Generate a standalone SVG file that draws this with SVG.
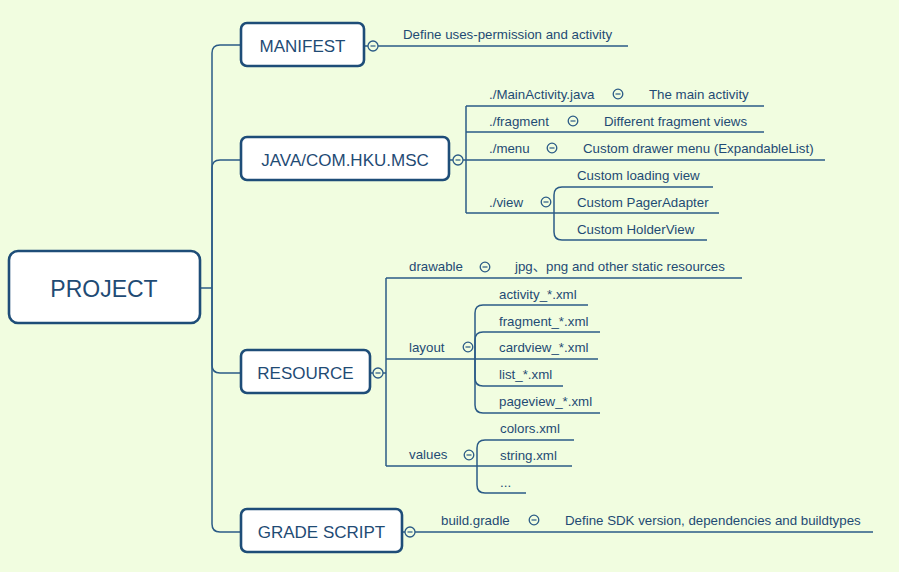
<svg xmlns="http://www.w3.org/2000/svg" width="899" height="572" viewBox="0 0 899 572">
<style>
.node rect{fill:#ffffff;stroke:#1e4d78;stroke-width:2.6}
.nt{font-family:"Liberation Sans","Noto Sans CJK SC",sans-serif;fill:#1f4b74;text-anchor:middle}
.t{font-family:"Liberation Sans","Noto Sans CJK SC",sans-serif;font-size:13.3px;fill:#1f4b74}
.ln{fill:none;stroke:#2b5b86;stroke-width:1.5}
.cc circle{fill:#f1fde0;stroke:#2b5b86;stroke-width:1.3}
.cc line{stroke:#2b5b86;stroke-width:1.2}
</style>
<rect x="0" y="0" width="899" height="572" fill="#f1fde0"/>
<g id="connectors">
<path class="ln" d="M200 288 H212"/>
<path class="ln" d="M212 288 V53 Q212 45 220 45 H241"/>
<path class="ln" d="M212 288 V168 Q212 160 220 160 H241"/>
<path class="ln" d="M212 288 V365 Q212 373 220 373 H241"/>
<path class="ln" d="M212 288 V524 Q212 532 220 532 H241"/>
<path class="ln" d="M364 46 H368 M378 46 H628"/>
<path class="ln" d="M449 160 H453 M463 160 H466"/>
<path class="ln" d="M466 106 V213"/>
<path class="ln" d="M466 106 H764 M466 132 H764 M466 160 H825 M466 213 H554"/>
<path class="ln" d="M554 213 V195 Q554 187 562 187 H713"/>
<path class="ln" d="M554 213 H719"/>
<path class="ln" d="M554 213 V232 Q554 240 562 240 H707"/>
<path class="ln" d="M370 373 H373 M383 373 H386"/>
<path class="ln" d="M386 278 V466"/>
<path class="ln" d="M386 278 H742 M386 359 H475 M386 466 H477"/>
<path class="ln" d="M475 359 V313 Q475 305 483 305 H588"/>
<path class="ln" d="M475 359 V340 Q475 332 483 332 H600"/>
<path class="ln" d="M475 359 H598"/>
<path class="ln" d="M475 359 V378 Q475 386 483 386 H563"/>
<path class="ln" d="M475 359 V405 Q475 413 483 413 H600"/>
<path class="ln" d="M477 466 V448 Q477 440 485 440 H574"/>
<path class="ln" d="M477 466 H572"/>
<path class="ln" d="M477 466 V485 Q477 493 485 493 H526"/>
<path class="ln" d="M402 532 H405 M415 532 H873"/>
</g>
<g id="collapse" class="cc">
<circle cx="373" cy="46" r="5"/><line x1="370.5" y1="46" x2="375.5" y2="46"/>
<circle cx="458" cy="160" r="5"/><line x1="455.5" y1="160" x2="460.5" y2="160"/>
<circle cx="378" cy="373" r="5"/><line x1="375.5" y1="373" x2="380.5" y2="373"/>
<circle cx="410" cy="532" r="5"/><line x1="407.5" y1="532" x2="412.5" y2="532"/>
<circle cx="618" cy="94" r="4.8"/><line x1="615.5" y1="94" x2="620.5" y2="94"/>
<circle cx="573" cy="121" r="4.8"/><line x1="570.5" y1="121" x2="575.5" y2="121"/>
<circle cx="552" cy="148" r="4.8"/><line x1="549.5" y1="148" x2="554.5" y2="148"/>
<circle cx="546" cy="202" r="4.8"/><line x1="543.5" y1="202" x2="548.5" y2="202"/>
<circle cx="485" cy="267" r="4.8"/><line x1="482.5" y1="267" x2="487.5" y2="267"/>
<circle cx="468" cy="347" r="4.8"/><line x1="465.5" y1="347" x2="470.5" y2="347"/>
<circle cx="469" cy="455" r="4.8"/><line x1="466.5" y1="455" x2="471.5" y2="455"/>
<circle cx="534" cy="520" r="4.8"/><line x1="531.5" y1="520" x2="536.5" y2="520"/>
</g>
<g id="project" class="node"><rect x="9" y="251" width="191" height="72" rx="9"/><text class="nt" x="104" y="296.5" font-size="23">PROJECT</text></g>
<g id="manifest" class="node"><rect x="241" y="23" width="123" height="43" rx="6"/><text class="nt" x="302.5" y="52" font-size="17">MANIFEST</text></g>
<g id="java" class="node"><rect x="241" y="137" width="208" height="43" rx="6"/><text class="nt" x="345" y="166" font-size="17">JAVA/COM.HKU.MSC</text></g>
<g id="resource" class="node"><rect x="241" y="350" width="129" height="43" rx="6"/><text class="nt" x="305.5" y="379" font-size="17">RESOURCE</text></g>
<g id="grade" class="node"><rect x="241" y="509" width="161" height="43" rx="6"/><text class="nt" x="321.5" y="538" font-size="17">GRADE SCRIPT</text></g>
<g id="manifest-desc"><text class="t" x="403" y="39">Define uses-permission and activity</text></g>
<g id="mainactivity"><text class="t" x="489" y="99">./MainActivity.java</text><text class="t" x="649" y="99">The main activity</text></g>
<g id="fragment"><text class="t" x="489" y="126">./fragment</text><text class="t" x="604" y="126">Different fragment views</text></g>
<g id="menu"><text class="t" x="489" y="153">./menu</text><text class="t" x="583" y="153">Custom drawer menu (ExpandableList)</text></g>
<g id="view"><text class="t" x="489" y="207">./view</text></g>
<g id="loading"><text class="t" x="577" y="180">Custom loading view</text></g>
<g id="pager"><text class="t" x="577" y="207">Custom PagerAdapter</text></g>
<g id="holder"><text class="t" x="577" y="234">Custom HolderView</text></g>
<g id="drawable"><text class="t" x="409" y="271">drawable</text><text class="t" x="515" y="271">jpg、png and other static resources</text></g>
<g id="layout"><text class="t" x="409" y="352">layout</text></g>
<g id="activity-xml"><text class="t" x="499" y="299">activity_*.xml</text></g>
<g id="fragment-xml"><text class="t" x="499" y="326">fragment_*.xml</text></g>
<g id="cardview-xml"><text class="t" x="499" y="352">cardview_*.xml</text></g>
<g id="list-xml"><text class="t" x="499" y="379">list_*.xml</text></g>
<g id="pageview-xml"><text class="t" x="499" y="406">pageview_*.xml</text></g>
<g id="values"><text class="t" x="409" y="459">values</text></g>
<g id="colors-xml"><text class="t" x="500" y="433">colors.xml</text></g>
<g id="string-xml"><text class="t" x="500" y="460">string.xml</text></g>
<g id="more"><text class="t" x="500" y="487">...</text></g>
<g id="build-gradle"><text class="t" x="441" y="525">build.gradle</text><text class="t" x="565" y="525">Define SDK version, dependencies and buildtypes</text></g>
</svg>
